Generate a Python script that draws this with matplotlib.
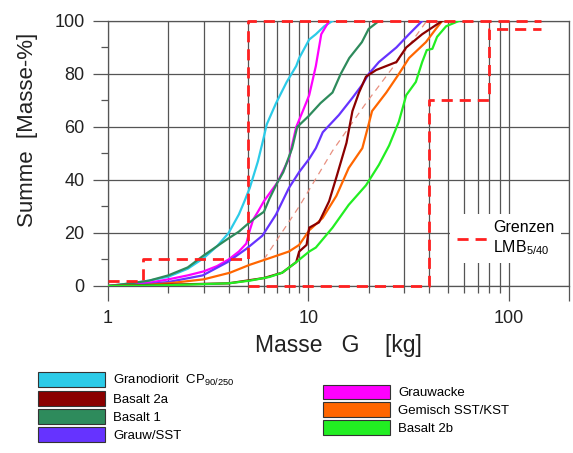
import matplotlib
matplotlib.use("Agg")
import matplotlib.pyplot as plt
from matplotlib.patches import Patch
from matplotlib.lines import Line2D
from matplotlib.ticker import MultipleLocator, LogLocator, NullFormatter

plt.rcParams['font.family'] = ['Liberation Sans', 'DejaVu Sans']
plt.rcParams['mathtext.default'] = 'regular'

# cumulative mass curves: mass G [kg] vs. Summe [Masse-%]
grano_x = [1.0, 1.3, 1.6, 2.0, 2.5, 3.0, 3.5, 4.0, 4.5, 4.8, 5.1, 5.6, 5.9, 6.2, 6.9, 7.8, 8.7, 9.0, 10.1, 10.9, 12.0, 13.2]
grano_y = [0, 1, 2, 3.5, 6.5, 10.5, 15, 20, 27, 32, 37, 47, 54, 61, 69, 77, 83, 86, 93, 95, 98, 100]

basalt2a_x = [1.0, 2.0, 4.0, 6.0, 7.4, 8.7, 9.0, 9.8, 10.1, 11.3, 12.7, 13.8, 15.5, 16.6, 17.9, 19.4, 21.8, 27.5, 30.8, 37.0, 46.5]
basalt2a_y = [0, 0.5, 1, 3, 5, 9, 13, 15.5, 22, 24, 32, 41, 54, 66, 73, 79, 81.5, 84.5, 90, 95, 100]

basalt1_x = [1.0, 1.3, 1.6, 2.0, 2.5, 3.0, 3.5, 4.0, 4.5, 5.0, 5.5, 6.0, 6.4, 7.0, 7.5, 8.3, 8.8, 10.0, 11.5, 13.2, 14.5, 16.0, 18.5, 20.0, 22.5]
basalt1_y = [0, 1, 2, 4, 7, 11.5, 15, 18, 20.5, 23.5, 26, 28, 33, 39, 43, 52, 60, 64, 69, 73, 80, 86, 92, 97, 100]

grausst_x = [1.0, 1.5, 2.0, 2.97, 3.95, 4.9, 5.9, 6.9, 8.0, 9.0, 10.1, 10.9, 11.8, 14.2, 16.6, 18.6, 20.0, 22.5, 27.5, 31.8, 37.0]
grausst_y = [0, 0.5, 1.5, 4, 9, 14, 19, 27, 37, 43, 48, 52, 58, 64.5, 71, 76, 80, 84.5, 90, 95, 100]

grauwacke_x = [1.0, 1.3, 1.6, 2.0, 2.5, 3.0, 3.5, 4.0, 4.5, 4.9, 5.1, 5.3, 5.6, 6.0, 7.0, 8.0, 8.7, 9.5, 10.1, 10.9, 11.6, 12.7]
grauwacke_y = [0, 0.5, 1.2, 2.5, 4, 5.5, 7.5, 10, 13, 16, 21, 25, 28, 32, 39, 48, 60, 67, 72, 83, 95, 100]

gemisch_x = [1.0, 1.5, 2.0, 3.0, 4.06, 5.1, 6.4, 8.0, 9.0, 10.1, 11.8, 13.8, 15.9, 18.6, 20.0, 20.8, 24.5, 28.3, 31.8, 38.6, 43.3, 46.5]
gemisch_y = [0, 0.3, 1, 2.5, 5, 8, 10.5, 13, 15.5, 21, 25.7, 34, 44.5, 52, 61, 66, 73, 80, 86, 92, 97, 100]

basalt2b_x = [1.0, 2.0, 4.0, 5.1, 6.4, 7.4, 8.7, 10.1, 10.9, 13.2, 15.9, 19.4, 22.5, 25.3, 28.3, 30.8, 34.4, 37.0, 39.0, 41.6, 43.9, 48.7, 56.4]
basalt2b_y = [0, 0.3, 1, 2, 3.4, 5, 9, 13, 14.5, 22, 30.6, 38, 45.7, 53, 62, 72, 77, 84.5, 89, 89.5, 94, 98, 100]

ref_x = [6.0, 9.0, 13.2, 19.4, 28.0, 39.0]
ref_y = [10, 30, 51, 69, 85, 100]

# LMB 5/40 limits
upper_x = [1.0, 1.5, 1.5, 5.0, 5.0, 145]
upper_y = [2, 2, 10, 10, 100, 100]
lower_x = [5.0, 40, 40, 80, 80, 145]
lower_y = [0, 0, 70, 70, 97, 97]

labels_left = ['Granodiorit  CP$_{90/250}$', 'Basalt 2a', 'Basalt 1', 'Grauw/SST']
labels_right = ['Grauwacke', 'Gemisch SST/KST', 'Basalt 2b']
colors_left = ['#2ccbe8', '#8b0000', '#2e8b5c', '#6633ff']
colors_right = ['#ff00ff', '#ff6600', '#22ee22']

fig = plt.figure(figsize=(5.73, 4.53), dpi=100)
ax = fig.add_axes([0.1885, 0.3687, 0.8045, 0.585])

series = [
    (grano_x, grano_y, colors_left[0]),
    (grauwacke_x, grauwacke_y, colors_right[0]),
    (basalt1_x, basalt1_y, colors_left[2]),
    (grausst_x, grausst_y, colors_left[3]),
    (gemisch_x, gemisch_y, colors_right[1]),
    (basalt2a_x, basalt2a_y, colors_left[1]),
    (basalt2b_x, basalt2b_y, colors_right[2]),
]
for xs, ys, c in series:
    ax.plot(xs, ys, color=c, lw=1.6, zorder=3)

ax.plot(ref_x, ref_y, color='#e89080', lw=0.9, ls=(0, (5, 4)), zorder=2)

lmb_style = dict(color='#ff2020', lw=2.0, ls=(0, (4, 2.5)), zorder=4, clip_on=False)
ax.plot(upper_x, upper_y, **lmb_style)
ax.plot(lower_x, lower_y, **lmb_style)

ax.set_xscale('log')
ax.set_xlim(1, 200)
ax.set_ylim(0, 100)
ax.set_xticks([1, 10, 100, 200])
ax.set_xticklabels(['1', '10', '100', ''])
ax.xaxis.set_minor_locator(LogLocator(base=10, subs=range(2, 10)))
ax.xaxis.set_minor_formatter(NullFormatter())
ax.set_yticks([0, 20, 40, 60, 80, 100])
ax.yaxis.set_minor_locator(MultipleLocator(10))

ax.set_axisbelow(True)
ax.grid(which='both', axis='x', color='#555555', lw=0.9)
ax.grid(which='major', axis='y', color='#555555', lw=0.9)
for s in ax.spines.values():
    s.set_color('#555555')
    s.set_linewidth(0.9)
ax.tick_params(which='major', length=11, width=0.9, color='#555555', labelsize=13, pad=6, labelcolor='#222222')
ax.tick_params(which='minor', length=5, width=0.9, color='#555555')

ax.set_xlabel('Masse   G    [kg]', fontsize=16.5, color='#222222', labelpad=5)
ax.set_ylabel('Summe  [Masse-%]', fontsize=16, color='#222222')
ax.yaxis.set_label_coords(-0.152, 0.59)

lmb_handle = Line2D([], [], color='#ff2020', lw=2.0, ls=(0, (4, 2.5)))
leg = ax.legend([lmb_handle], ['Grenzen\nLMB$_{5/40}$'], loc='center right',
                bbox_to_anchor=(1.0, 0.18), fontsize=11.5, frameon=True,
                fancybox=False, framealpha=1, facecolor='white', edgecolor='none',
                handlelength=1.9, handletextpad=0.4, borderpad=0.4)
leg.set_zorder(5)

h_left = [Patch(facecolor=c, edgecolor='#333333', lw=0.8) for c in colors_left]
h_right = [Patch(facecolor=c, edgecolor='#333333', lw=0.8) for c in colors_right]
common = dict(loc='upper left', frameon=False, fontsize=9.5, handlelength=5.1,
              handleheight=1.35, labelspacing=0.23, handletextpad=0.6, borderpad=0,
              borderaxespad=0)
fig.legend(h_left, labels_left, bbox_to_anchor=(0.066, 0.178), **common)
fig.legend(h_right, labels_right, bbox_to_anchor=(0.5637, 0.151), **common)

fig.savefig('out.png', dpi=100)
